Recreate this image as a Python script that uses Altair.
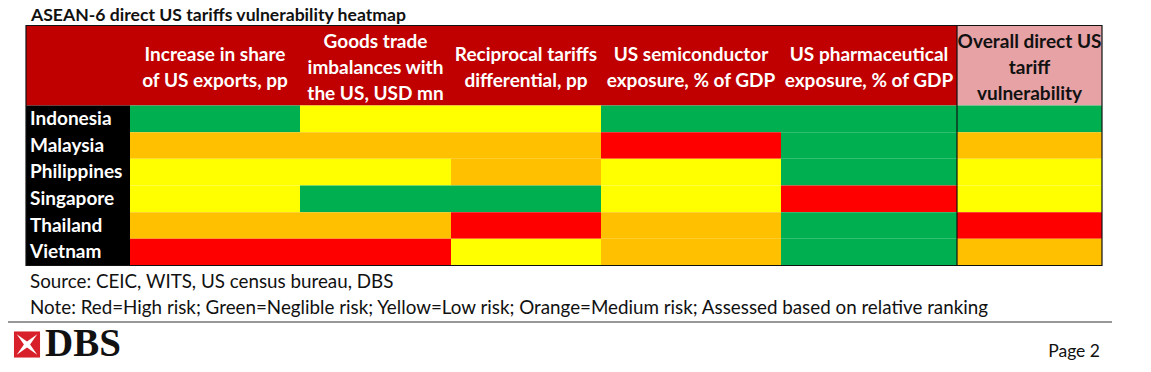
import altair as alt
import pandas as pd

# ---------------- data ----------------
title_text = "ASEAN-6 direct US tariffs vulnerability heatmap"
countries = ["Indonesia", "Malaysia", "Philippines", "Singapore", "Thailand", "Vietnam"]
indicators = [
    "Increase in share\nof US exports, pp",
    "Goods trade\nimbalances with\nthe US, USD mn",
    "Reciprocal tariffs\ndifferential, pp",
    "US semiconductor\nexposure, % of GDP",
    "US pharmaceutical\nexposure, % of GDP",
    "Overall direct US\ntariff\nvulnerability",
]
indonesia = ["Negligible", "Low", "Low", "Negligible", "Negligible", "Negligible"]
malaysia = ["Medium", "Medium", "Medium", "High", "Negligible", "Medium"]
philippines = ["Low", "Low", "Medium", "Low", "Negligible", "Low"]
singapore = ["Low", "Negligible", "Negligible", "Low", "High", "Low"]
thailand = ["Medium", "Medium", "High", "Medium", "Negligible", "High"]
vietnam = ["High", "High", "Low", "Medium", "Negligible", "Medium"]
ratings = [indonesia, malaysia, philippines, singapore, thailand, vietnam]

risk_levels = ["Negligible", "Low", "Medium", "High"]
risk_colors = ["#00B050", "#FFFF00", "#FFC000", "#FF0000"]

source_text = "Source: CEIC, WITS, US census bureau, DBS"
note_text = ("Note: Red=High risk; Green=Neglible risk; Yellow=Low risk; "
             "Orange=Medium risk; Assessed based on relative ranking")
brand_text = "DBS"
page_text = "Page 2"

# ---------------- layout (page pixel units) ----------------
W, H, M = 1135, 356, 8
col_edges = [130, 300, 451, 601, 781, 957, 1102]
table_left, header_top, header_bottom, table_bottom = 26, 25.5, 105.5, 265.5
row_h = (table_bottom - header_bottom) / len(countries)
LINE_H = 26
FONT = "Lato"

xs = alt.Scale(domain=[M, M + W], nice=False, zero=False)
ys = alt.Scale(domain=[M, M + H], reverse=True, nice=False, zero=False)


def X(f):
    return alt.X(f, type="quantitative", scale=xs, axis=None)


def Y(f):
    return alt.Y(f, type="quantitative", scale=ys, axis=None)


# cells
cell_rows = []
for i, c in enumerate(countries):
    for j, ind in enumerate(indicators):
        cell_rows.append({
            "country": c, "indicator": ind.replace("\n", " "), "risk": ratings[i][j],
            "x0": col_edges[j], "x1": col_edges[j + 1],
            "y0": header_bottom + i * row_h, "y1": header_bottom + (i + 1) * row_h,
        })
cells_df = pd.DataFrame(cell_rows)

bg_df = pd.DataFrame([
    {"x0": table_left, "x1": col_edges[5], "y0": header_top, "y1": header_bottom, "fill": "#C00000"},
    {"x0": col_edges[5], "x1": col_edges[6], "y0": header_top, "y1": header_bottom, "fill": "#E6A2A5"},
    {"x0": table_left, "x1": col_edges[0], "y0": header_bottom, "y1": table_bottom, "fill": "#000000"},
])

background = alt.Chart(bg_df).mark_rect().encode(
    x=X("x0"), x2="x1", y=Y("y0"), y2="y1",
    fill=alt.Fill("fill:N", scale=None),
)

cells = alt.Chart(cells_df).mark_rect().encode(
    x=X("x0"), x2="x1", y=Y("y0"), y2="y1",
    fill=alt.Fill("risk:N", scale=alt.Scale(domain=risk_levels, range=risk_colors), legend=None),
    tooltip=["country:N", "indicator:N", "risk:N"],
)

border_df = pd.DataFrame([{"x0": table_left, "x1": col_edges[6], "y0": header_top, "y1": table_bottom}])
border = alt.Chart(border_df).mark_rect(fillOpacity=0, stroke="#111111", strokeWidth=1.2).encode(
    x=X("x0"), x2="x1", y=Y("y0"), y2="y1",
)

divider_df = pd.DataFrame([{"x": col_edges[5], "y0": header_top, "y1": table_bottom}])
divider = alt.Chart(divider_df).mark_rule(color="#111111", strokeWidth=1.2).encode(
    x=X("x"), y=Y("y0"), y2="y1",
)

# header labels (first line positioned so the block is centred in the header)
head_center = (header_top + header_bottom) / 2 + 2
head_df = pd.DataFrame([
    {"x": (col_edges[j] + col_edges[j + 1]) / 2,
     "y": head_center - (ind.count("\n")) * LINE_H / 2,
     "label": ind}
    for j, ind in enumerate(indicators)
])
head_white = alt.Chart(head_df.iloc[:5]).mark_text(
    lineBreak="\n", lineHeight=LINE_H, font=FONT, fontSize=19, fontWeight="bold",
    color="white", align="center", baseline="middle",
).encode(x=X("x"), y=Y("y"), text="label:N")
head_black = alt.Chart(head_df.iloc[5:]).mark_text(
    lineBreak="\n", lineHeight=LINE_H, font=FONT, fontSize=19, fontWeight="bold",
    color="#111111", align="center", baseline="middle",
).encode(x=X("x"), y=Y("y"), text="label:N")

# country labels
ctry_df = pd.DataFrame([
    {"x": 30, "y": header_bottom + (i + 0.5) * row_h, "label": c} for i, c in enumerate(countries)
])
ctry = alt.Chart(ctry_df).mark_text(
    font=FONT, fontSize=19, fontWeight="bold", color="white", align="left", baseline="middle",
).encode(x=X("x"), y=Y("y"), text="label:N")


def single_text(x, y, label, font=FONT, baseline="middle", **kw):
    df = pd.DataFrame([{"x": x, "y": y, "label": label}])
    return alt.Chart(df).mark_text(font=font, baseline=baseline, **kw).encode(
        x=X("x"), y=Y("y"), text="label:N")


title = single_text(31, 21, title_text, baseline="alphabetic", fontSize=17.6, fontWeight="bold",
                    color="#111111", align="left")
source = single_text(30, 281.5, source_text, fontSize=18.8, color="#111111", align="left")
note = single_text(30, 307.5, note_text, fontSize=18.8, color="#111111", align="left")
page = single_text(1100, 352, page_text, fontSize=17.5, color="#111111", align="right")
brand = single_text(45, 364, brand_text, font="Liberation Serif", baseline="bottom",
                    fontSize=39, fontWeight="bold", color="#111111", align="left")

# footer separator line
sep_df = pd.DataFrame([{"x0": M, "x1": 1112, "y": 322}])
sep = alt.Chart(sep_df).mark_rule(color="#333333", strokeWidth=1.2).encode(
    x=X("x0"), x2="x1", y=Y("y"),
)

# DBS logo mark
logo_df = pd.DataFrame([{"x": 27, "y": 344.5}])
logo_box = alt.Chart(logo_df).mark_point(
    shape="square", filled=True, size=680, color="#D8202B", opacity=1,
).encode(x=X("x"), y=Y("y"))
logo_star = alt.Chart(logo_df).mark_point(
    shape="M-1,-1L0,-0.3L1,-1L0.3,0L1,1L0,0.3L-1,1L-0.3,0Z",
    filled=True, size=420, color="white", opacity=1,
).encode(x=X("x"), y=Y("y"))

chart = alt.layer(
    background, cells, border, divider, head_white, head_black, ctry,
    title, source, note, sep, logo_box, logo_star, brand, page,
).properties(
    width=W, height=H, padding=0,
    autosize=alt.AutoSizeParams(type="none"),
).configure_view(strokeWidth=0)

chart.save("out.html", embed_options={"renderer": "svg", "actions": False})
